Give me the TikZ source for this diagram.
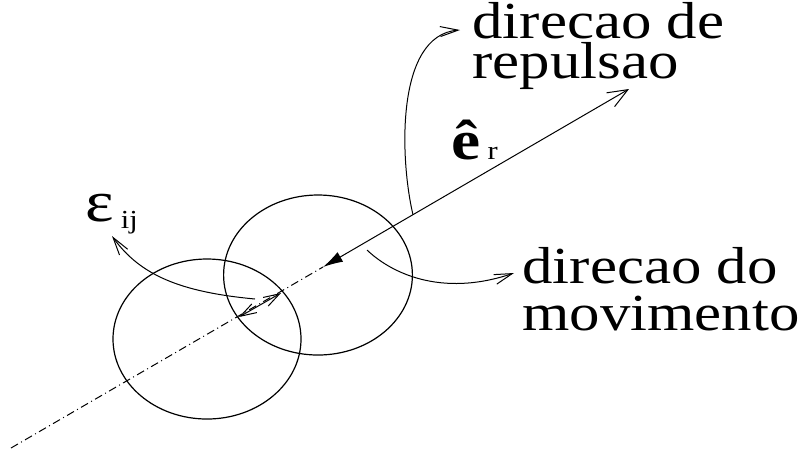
\documentclass[tikz,border=0pt]{standalone}
\usepackage{fontspec}
\setmainfont{Liberation Serif}
\usepackage{graphicx}
\usetikzlibrary{arrows.meta, calc}

% texto alargado na horizontal, como na figura original
\newcommand{\largo}[1]{\scalebox{1.17}[1]{#1}}

\begin{document}
\begin{tikzpicture}[
  x=0.5pt, y=-0.5pt,
  rotulo/.style={anchor=base west, inner sep=0pt,
                 font=\fontsize{26}{26}\selectfont},
  fino/.style={line width=0.5pt},
  bola/.style={line width=0.6pt},
  traco/.style={line width=0.5pt,
                dash pattern=on 4pt off 1.8pt on 0.5pt off 1.8pt},
  aberta/.style={-{Straight Barb[length=9pt,width=5pt]}}
]
  \useasboundingbox (0,0) rectangle (807,457);

  %=========================================================
  % 1. Os dois discos que se sobrepoem
  %=========================================================
  \coordinate (c1) at (207,339);
  \coordinate (c2) at (318,275);
  \draw[bola] (c1) ellipse [x radius=47pt, y radius=40pt];
  \draw[bola] (c2) ellipse [x radius=47.2pt, y radius=40pt];

  %=========================================================
  % 2. Eixo de contacto e vetor e_r
  %=========================================================
  \coordinate (cauda)  at (11,448);
  \coordinate (centro) at (323,267);
  \coordinate (ponta)  at (629,89);
  \draw[traco] (cauda) -- (centro);
  \draw[fino, {Latex[length=10pt,width=5.5pt]}-{Straight Barb[length=10pt,width=8pt]}]
    (centro) -- (ponta);

  % sobreposicao epsilon_ij
  \coordinate (e1) at (239,317);
  \coordinate (e2) at (281,293);
  \draw[fino, {Straight Barb[length=8pt,width=5pt]}-{Straight Barb[length=8pt,width=5pt]}]
    (e1) -- (e2);

  %=========================================================
  % 3. Rotulos
  %=========================================================
  \node[rotulo] (repulsao)   at (472,38)  {\largo{direcao de}};
  \node[rotulo] (repulsao2)  at (472,78)  {\largo{repulsao}};
  \node[rotulo] (movimento)  at (522,283) {\largo{direcao do}};
  \node[rotulo] (movimento2) at (522,330) {\largo{movimento}};
  \node[rotulo] (eps) at (85,221)
    {\largo{{\fontsize{29}{29}\selectfont ε}\hspace{3pt}\raisebox{-3.5pt}{\fontsize{13}{13}\selectfont ij}}};
  \node[rotulo] (er) at (451,159)
    {\largo{{\fontsize{28}{28}\selectfont\textbf{ê}}\hspace{3pt}{\fontsize{13}{13}\selectfont r}}};

  %=========================================================
  % 4. Setas curvas ate aos rotulos
  %=========================================================
  \coordinate (rbase)  at ($(centro)!0.294!(ponta)$);
  \coordinate (rponta) at (460,30);
  \draw[fino, aberta] (rbase) .. controls (400,160) and (395,35) .. (rponta);

  \coordinate (mbase)  at (367,250);
  \coordinate (mponta) at (514,273);
  \draw[fino, aberta] (mbase) .. controls (390,272) and (440,298) .. (mponta);

  \coordinate (ebase)  at (255,299);
  \coordinate (eponta) at (112,236);
  \draw[fino, aberta] (ebase) .. controls (180,292) and (140,275) .. (eponta);

\end{tikzpicture}
\end{document}
